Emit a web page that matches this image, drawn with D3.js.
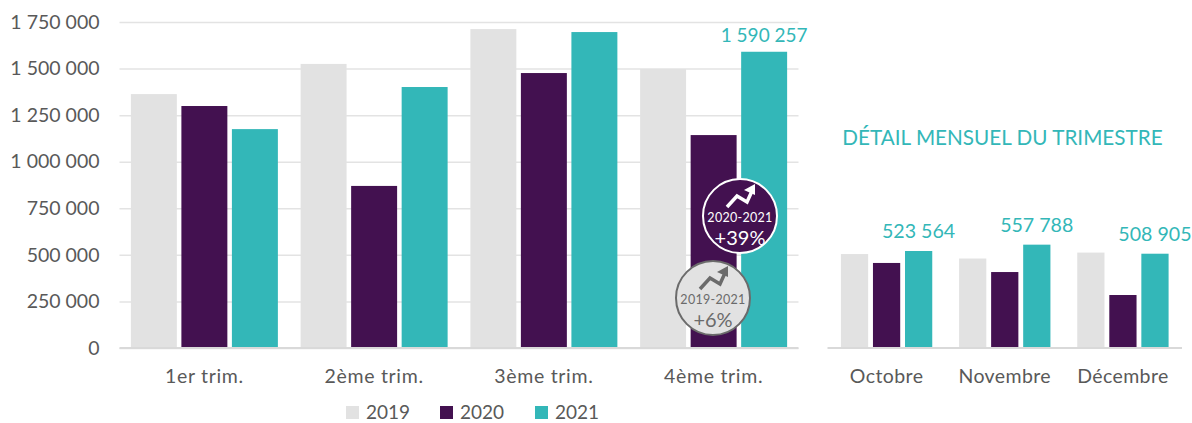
<!DOCTYPE html>
<html>
<head>
<meta charset="utf-8">
<script src="https://cdn.jsdelivr.net/npm/d3@7"></script>
<style>
  html, body { margin: 0; padding: 0; background: #fff; }
  svg { display: block; font-family: Lato, "Open Sans", sans-serif; }
  .domain { display: none; }
</style>
</head>
<body>
<div id="plot"></div>
<script>
const years = ["2019", "2020", "2021"];
const colors = ["#E2E2E2", "#431150", "#33B7B8"];

const quarters = ["1er trim.", "2ème trim.", "3ème trim.", "4ème trim."];
const quarter2019 = [1363000, 1525000, 1712000, 1498000];
const quarter2020 = [1299000, 870000, 1476000, 1143000];
const quarter2021 = [1175000, 1401000, 1696000, 1590257];
const yTicks = [0, 250000, 500000, 750000, 1000000, 1250000, 1500000, 1750000];

const months = ["Octobre", "Novembre", "Décembre"];
const month2019 = [507000, 483000, 515000];
const month2020 = [459000, 410000, 286000];
const month2021 = [523564, 557788, 508905];

const detailTitle = "DÉTAIL MENSUEL DU TRIMESTRE";
const badgePeriods = ["2020-2021", "2019-2021"];
const badgeValues = ["+39%", "+6%"];

const width = 1192;
const height = 423;
const textColor = "#595959";
const gridColor = "#E3E3E3";
const teal = colors[2];

const svg = d3.select("#plot").append("svg")
  .attr("width", width)
  .attr("height", height);

const fmt = d3.formatLocale({ decimal: ",", thousands: "\u00a0", grouping: [3], currency: ["", ""] }).format(",d");

const baseY = 348;

// groups: one chart of grouped bars, used for the quarters and for the months
const barChart = (selection, opts) => {
  const { cats, series, x0Range, groupPad, barPad, y } = opts;
  const x0 = d3.scaleBand().domain(cats).range(x0Range).paddingInner(groupPad).paddingOuter(groupPad / 2);
  const x1 = d3.scaleBand().domain(years).range([0, x0.bandwidth()]).paddingInner(barPad);

  const groups = selection.selectAll(".group").data(cats).enter().append("g")
    .attr("class", "group")
    .attr("transform", d => `translate(${x0(d)},0)`);

  groups.selectAll("rect")
    .data((d, i) => years.map((yr, j) => ({ yr, j, value: series[j][i] })))
    .enter().append("rect")
    .attr("x", d => x1(d.yr))
    .attr("y", d => y(d.value))
    .attr("width", x1.bandwidth())
    .attr("height", d => y(0) - y(d.value))
    .attr("fill", d => colors[d.j]);

  // baseline
  selection.append("line")
    .attr("x1", x0Range[0]).attr("x2", x0Range[1])
    .attr("y1", y(0)).attr("y2", y(0))
    .attr("stroke", "#D9D9D9").attr("stroke-width", 2);

  const axis = selection.append("g")
    .attr("transform", `translate(0,${y(0)})`)
    .call(d3.axisBottom(x0).tickSize(0).tickPadding(opts.labelPad));
  axis.attr("font-family", null).attr("font-size", null);
  axis.selectAll("text")
    .attr("fill", textColor)
    .style("font-size", opts.labelSize + "px")
    .style("letter-spacing", opts.labelSpacing + "px");

  return { x0, x1 };
};

// main chart
const yMain = d3.scaleLinear().domain([0, 1750000]).range([baseY, 22]);
const mainG = svg.append("g");
const mainX = [119.5, 798.5];

const gridG = mainG.append("g")
  .attr("transform", `translate(${mainX[0]},0)`)
  .call(d3.axisLeft(yMain).tickValues(yTicks).tickFormat(fmt)
    .tickSize(-(mainX[1] - mainX[0])).tickPadding(20));
gridG.attr("font-family", null).attr("font-size", null);
gridG.selectAll("line").attr("stroke", gridColor).attr("stroke-width", 1.5);
gridG.selectAll("text")
  .attr("fill", textColor)
  .style("font-size", "19.5px");

const main = barChart(mainG, {
  cats: quarters,
  series: [quarter2019, quarter2020, quarter2021],
  x0Range: mainX,
  groupPad: 0.134,
  barPad: 0.09,
  labelPad: 21,
  labelSize: 19.5,
  labelSpacing: 0.7,
  y: yMain
});

// only the last quarter carries a label
mainG.append("text")
  .attr("x", main.x0(quarters[3]) + main.x1("2021") + main.x1.bandwidth() / 2)
  .attr("y", yMain(quarter2021[3]) - 10)
  .attr("text-anchor", "middle")
  .attr("fill", teal)
  .style("font-size", "19px")
  .text(fmt(quarter2021[3]));

// detail chart
const yDetail = d3.scaleLinear().domain([0, 523564]).range([baseY, 251]);
const detailG = svg.append("g");

const detail = barChart(detailG, {
  cats: months,
  series: [month2019, month2020, month2021],
  x0Range: [827.5, 1182],
  groupPad: 0.227,
  barPad: 0.15,
  labelPad: 21,
  labelSize: 19.5,
  labelSpacing: 0.4,
  y: yDetail
});

detailG.selectAll(".value")
  .data(months)
  .enter().append("text")
  .attr("class", "value")
  .attr("x", d => detail.x0(d) + detail.x0.bandwidth() / 2 + 32)
  .attr("y", (d, i) => yDetail(month2021[i]) - 13)
  .attr("text-anchor", "middle")
  .attr("fill", teal)
  .style("font-size", "19.6px")
  .text((d, i) => fmt(month2021[i]));

svg.append("text")
  .attr("x", 1002.5)
  .attr("y", 145)
  .attr("text-anchor", "middle")
  .attr("fill", teal)
  .style("font-size", "20.7px")
  .text(detailTitle);

// legend
const legendX = [346, 440, 535];
const legend = svg.selectAll(".legend").data(years).enter().append("g")
  .attr("class", "legend")
  .attr("transform", (d, i) => `translate(${legendX[i]},406)`);
legend.append("rect")
  .attr("width", 13).attr("height", 13)
  .attr("fill", (d, i) => colors[i]);
legend.append("text")
  .attr("x", 20).attr("y", 13)
  .attr("fill", textColor)
  .style("font-size", "19px")
  .text(d => d);

// badges
const badge = (cx, cy, fill, stroke, ink, period, value) => {
  const g = svg.append("g").attr("transform", `translate(${cx},${cy})`);
  g.append("circle").attr("r", 37).attr("fill", fill).attr("stroke", stroke).attr("stroke-width", 2);
  // trend arrow
  g.append("path")
    .attr("d", "M-13,-9 L-3,-20 L7,-14 L12,-25")
    .attr("fill", "none")
    .attr("stroke", ink)
    .attr("stroke-width", 3.5);
  g.append("path")
    .attr("d", "M4,-26 L15,-32 L15,-21 Z")
    .attr("fill", ink);
  g.append("text")
    .attr("y", 6)
    .attr("text-anchor", "middle")
    .attr("fill", ink)
    .style("font-size", "12.5px")
    .style("letter-spacing", "0.3px")
    .text(period);
  g.append("text")
    .attr("y", 29)
    .attr("text-anchor", "middle")
    .attr("fill", ink)
    .style("font-size", "20px")
    .text(value);
};

badge(740, 216, colors[1], "#FFFFFF", "#FFFFFF", badgePeriods[0], badgeValues[0]);
badge(713, 298, colors[0], "#6B6B6B", "#6B6B6B", badgePeriods[1], badgeValues[1]);
</script>
</body>
</html>
